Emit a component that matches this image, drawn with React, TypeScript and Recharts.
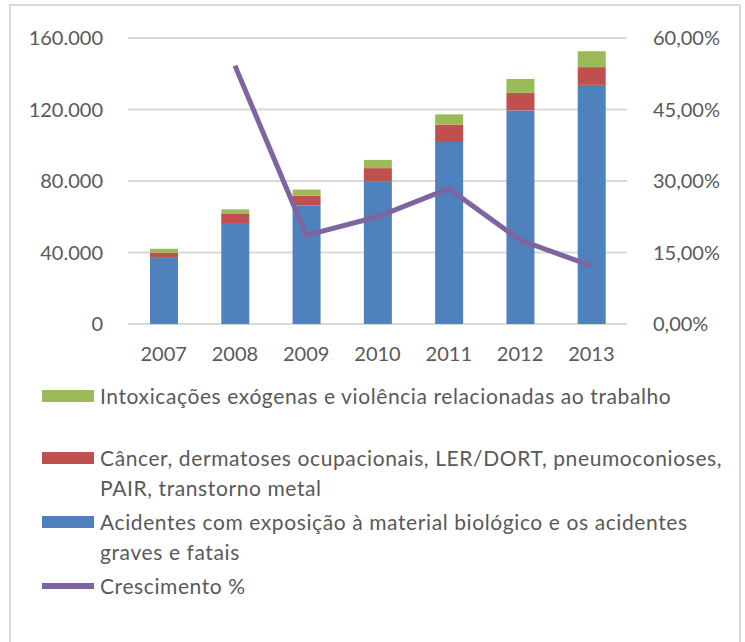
import React from "react";
import { ComposedChart, Bar, Line, XAxis, YAxis, CartesianGrid } from "recharts";

const years = ["2007", "2008", "2009", "2010", "2011", "2012", "2013"];
const acidentes = [37000, 56500, 66500, 79800, 101800, 119500, 133800];
const cancer = [2900, 5400, 5200, 7400, 9800, 9800, 9900];
const intoxicacoes = [2200, 2200, 3500, 4600, 5700, 7800, 8900];
const crescimento = [null, 0.542, 0.186, 0.225, 0.284, 0.176, 0.122];

const leftTicks = [0, 40000, 80000, 120000, 160000];
const rightTicks = [0, 0.15, 0.3, 0.45, 0.6];

const legendItems = [
  { label: "Intoxicações exógenas e violência relacionadas ao trabalho", color: "#9bbb59", line: false },
  { label: "Câncer, dermatoses ocupacionais, LER/DORT, pneumoconioses, PAIR, transtorno metal", color: "#c0504d", line: false },
  { label: "Acidentes com exposição à material biológico e os acidentes graves e fatais", color: "#4f81bd", line: false },
  { label: "Crescimento %", color: "#8064a2", line: true },
];

const data = years.map((year, i) => ({
  year,
  acidentes: acidentes[i],
  cancer: cancer[i],
  intoxicacoes: intoxicacoes[i],
  crescimento: crescimento[i],
}));

const FONT = "Lato, 'Noto Sans', sans-serif";
const tickStyle = { fill: "#595959", fontSize: 20, fontFamily: FONT };

const fmtThousands = (v: number) => (v === 0 ? "0" : v.toLocaleString("de-DE"));
const fmtPercent = (v: number) => (v * 100).toFixed(2).replace(".", ",") + "%";

export default function App() {
  return (
    <div style={{ position: "relative", width: 745, height: 642, background: "#fff", overflow: "hidden" }}>
      <style>{"body{margin:0}"}</style>
      <div
        style={{
          position: "absolute",
          left: 9,
          top: 4,
          width: 728,
          height: 660,
          border: "2px solid #d9d9d9",
        }}
      />
      <div style={{ position: "absolute", left: 0, top: 0 }}>
        <ComposedChart width={745} height={370} data={data} margin={{ top: 38, right: 0, bottom: 0, left: 0 }} barSize={28}>
          <CartesianGrid vertical={false} stroke="#d9d9d9" strokeWidth={2} yAxisId="left" />
          <XAxis
            dataKey="year"
            height={46}
            axisLine={false}
            tickLine={false}
            tickMargin={17}
            tick={tickStyle}
          />
          <YAxis
            yAxisId="left"
            orientation="left"
            width={128}
            domain={[0, 160000]}
            ticks={leftTicks}
            axisLine={false}
            tickLine={false}
            tickMargin={19}
            tickFormatter={fmtThousands}
            tick={tickStyle}
          />
          <YAxis
            yAxisId="right"
            orientation="right"
            width={118}
            domain={[0, 0.6]}
            ticks={rightTicks}
            axisLine={false}
            tickLine={false}
            tickMargin={20}
            tickFormatter={fmtPercent}
            tick={tickStyle}
          />
          <Bar yAxisId="left" dataKey="acidentes" stackId="a" fill="#4f81bd" isAnimationActive={false} />
          <Bar yAxisId="left" dataKey="cancer" stackId="a" fill="#c0504d" isAnimationActive={false} />
          <Bar yAxisId="left" dataKey="intoxicacoes" stackId="a" fill="#9bbb59" isAnimationActive={false} />
          <Line
            yAxisId="right"
            dataKey="crescimento"
            stroke="#8064a2"
            strokeWidth={5}
            dot={false}
            activeDot={false}
            isAnimationActive={false}
          />
        </ComposedChart>
      </div>
      <div
        style={{
          position: "absolute",
          left: 42,
          top: 381,
          width: 690,
          fontFamily: FONT,
          fontSize: 21,
          letterSpacing: 0.6,
          color: "#595959",
        }}
      >
        {legendItems.map((item, i) => (
          <div key={i} style={{ display: "flex", alignItems: "flex-start", lineHeight: "30px", marginBottom: i === 0 ? 32 : 4 }}>
            <div
              style={{
                flex: "none",
                width: 52,
                height: item.line ? 6 : 12,
                marginTop: item.line ? 12 : 9,
                marginRight: 6,
                background: item.color,
              }}
            />
            <div style={{ width: 630 }}>{item.label}</div>
          </div>
        ))}
      </div>
    </div>
  );
}
